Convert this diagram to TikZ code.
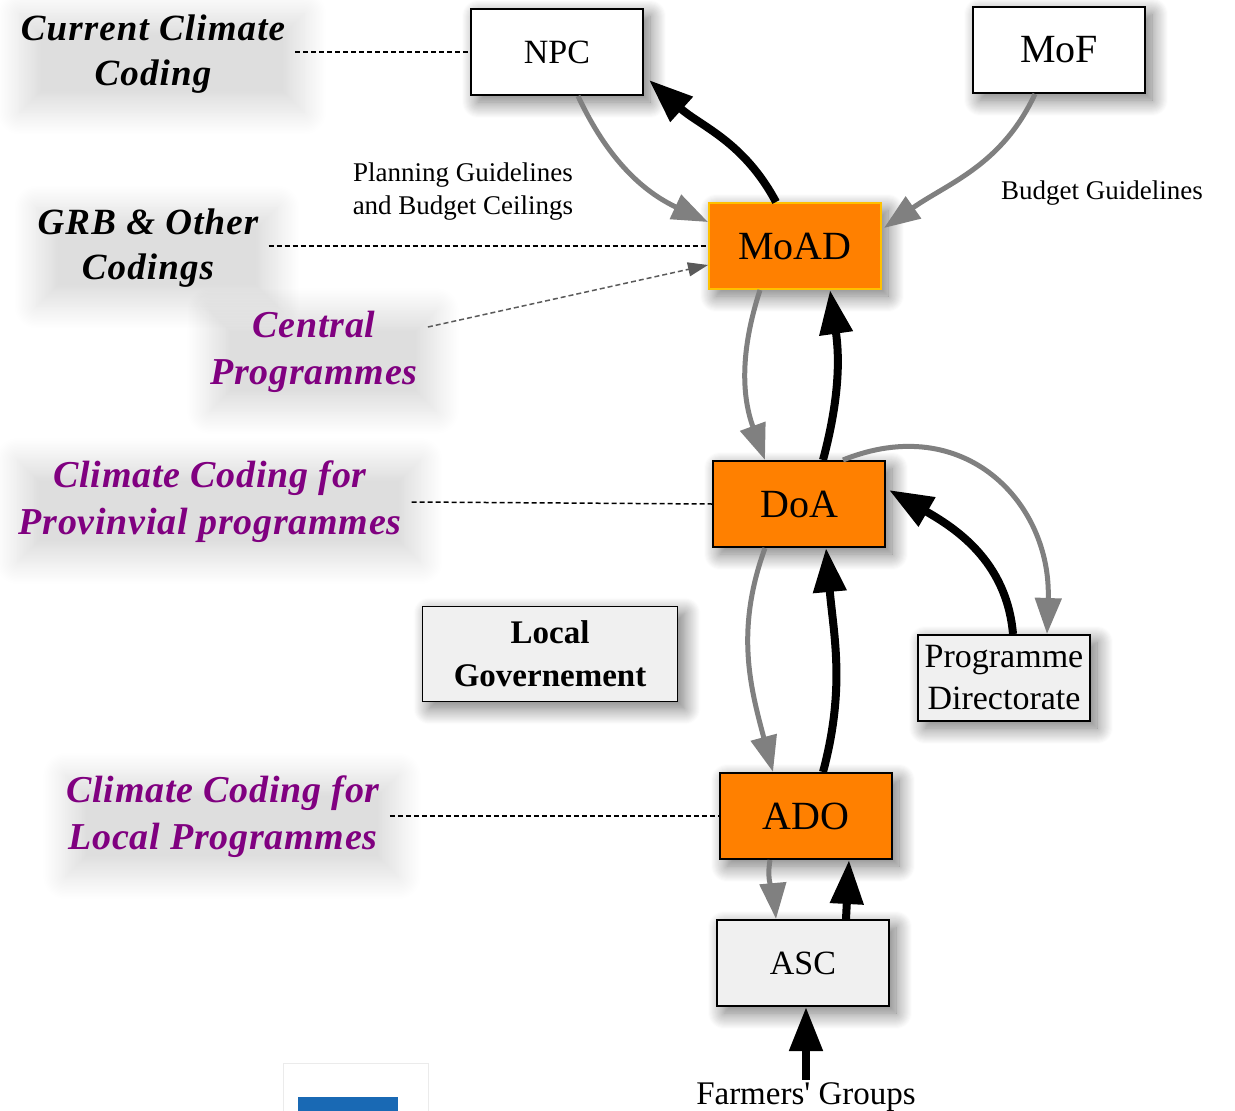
\documentclass[tikz,border=0pt]{standalone}
\usepackage{fontspec}
\setmainfont{Liberation Serif}
\newfontfamily\rawserif{Liberation Serif}
\usetikzlibrary{arrows.meta,calc,shadows.blur}

\definecolor{boxorange}{RGB}{255,128,0}
\definecolor{moadrim}{RGB}{255,192,0}
\definecolor{plum}{RGB}{128,0,128}
\definecolor{flowgray}{RGB}{128,128,128}
\definecolor{linkgray}{RGB}{90,90,90}
\definecolor{panelgray}{RGB}{240,240,240}
\definecolor{tileblue}{RGB}{25,105,180}

\tikzset{
  haze/.style={blur shadow={shadow xshift=7pt, shadow yshift=-7pt,
      shadow blur radius=16pt, shadow blur steps=16, shadow opacity=55}},
  softhaze/.style={blur shadow={shadow xshift=9pt, shadow yshift=-9pt,
      shadow blur radius=22pt, shadow blur steps=16, shadow opacity=13}},
  unitbox/.style={draw=black, line width=2pt, minimum width=172pt,
      minimum height=86pt, inner sep=0pt, haze,
      font=\fontsize{40}{44}\selectfont},
  smallunit/.style={unitbox, font=\fontsize{34}{42}\selectfont, align=center},
  caption/.style={font=\fontsize{37}{45}\selectfont\bfseries\itshape\addfontfeature{LetterSpace=3},
      align=center, inner sep=10pt, softhaze},
  plumcap/.style={font=\fontsize{38}{47}\selectfont\bfseries\itshape\addfontfeature{LetterSpace=2},
      text=plum, align=center, inner sep=10pt, softhaze},
  note/.style={font=\fontsize{27}{33}\selectfont, align=center, inner sep=2pt},
  flowdown/.style={draw=flowgray, line width=5pt,
      -{Triangle[length=36pt,width=26pt]}},
  flowup/.style={draw=black, line width=8pt,
      -{Triangle[length=44pt,width=32pt]}},
  guide/.style={draw=black, line width=1.5pt, dash pattern=on 5pt off 3pt},
  guidearrow/.style={draw=linkgray, line width=1.5pt,
      dash pattern=on 5pt off 3pt,
      -{Triangle[length=20pt,width=14pt]}},
}

\begin{document}
\begin{tikzpicture}[x=1pt,y=1pt]
\useasboundingbox (0,0) rectangle (1235,-1111);

% organisational units
\node[unitbox, fill=white, font=\fontsize{34}{40}\selectfont] (NPC) at (557,-52) {NPC};
\node[unitbox, fill=white] (MoF) at (1059,-50) {MoF};
\node[unitbox, fill=boxorange, draw=moadrim] (MoAD) at (795,-246) {MoAD};
\node[unitbox, fill=boxorange] (DoA) at (799,-504) {DoA};
\node[unitbox, fill=boxorange] (ADO) at (806,-816) {ADO};
\node[smallunit, fill=panelgray] (ASC) at (803,-963) {ASC};
\node[smallunit, fill=panelgray] (PD) at (1004,-678) {Programme\\Directorate};
\node[draw=black, line width=1.5pt, fill=panelgray, minimum width=255pt,
      minimum height=95pt, inner sep=0pt, haze, align=center,
      font=\fontsize{33}{43}\selectfont\bfseries] (LG) at (550,-654) {Local\\Governement};
\node[font=\rawserif\fontsize{33}{40}\selectfont, anchor=base, inner sep=2pt] (FG) at (806,-1104) {Farmers' Groups};

% side captions
\node[caption] (CCC) at (153,-54) {Current Climate\\Coding};
\node[caption] (GRB) at (148,-248) {GRB \& Other\\Codings};
\node[plumcap] (CP) at (314,-352) {Central\\Programmes};
\node[plumcap] (PROV) at (210,-502) {Climate Coding for\\Provinvial programmes};
\node[plumcap] (LOC) at (223,-817) {Climate Coding for\\Local Programmes};
\node[note] (PBG) at (463,-192) {Planning Guidelines\\and Budget Ceilings};
\node[note] (BG) at (1102,-193) {Budget Guidelines};

% partial tile at the lower edge
\draw[draw=black!8, line width=1pt] (283,-1063) rectangle (428,-1115);
\fill[tileblue] (298,-1097) rectangle (398,-1115);

% caption leaders
\draw[guide] (CCC.east |- NPC.west) -- (NPC.west);
\draw[guide] (GRB.east |- MoAD.west) -- (MoAD.west);
\draw[guide] (PROV.east) -- (DoA.west);
\draw[guide] (LOC.east |- ADO.west) -- (ADO.west);
\coordinate (cpTail) at ($(CP.east)+(0,25)$);
\draw[guidearrow] (cpTail) -- ($(MoAD.west)+(0,-19)$);

% guidelines flowing down
\draw[flowdown] ($(NPC.south)+(21,0)$) to[out=-65,in=155] ($(MoAD.west)+(0,24)$);
\draw[flowdown] ($(MoF.south)+(-24,0)$) to[out=-115,in=35] ($(MoAD.east)+(2,18)$);
\draw[flowdown] ($(MoAD.south)+(-35,0)$) to[out=-108,in=110] ($(DoA.north)+(-34,0)$);
\draw[flowdown] ($(DoA.north)+(44,0)$) to[out=22,in=88,looseness=1.25] ($(PD.north)+(43,0)$);
\draw[flowdown] ($(DoA.south)+(-34,0)$) to[out=-110,in=105] ($(ADO.north)+(-33,0)$);
\draw[flowdown] ($(ADO.south)+(-36,0)$) to[out=-100,in=95] ($(ASC.north)+(-27,0)$);

% submissions flowing up
\draw[flowup] ($(MoAD.north)+(-19,0)$) to[out=118,in=-42] ($(NPC.south east)+(5,16)$);
\draw[flowup] ($(DoA.north)+(24,0)$) to[out=75,in=-82] ($(MoAD.south)+(35,0)$);
\draw[flowup] ($(PD.north)+(9,0)$) to[out=95,in=-30] ($(DoA.east)+(3,14)$);
\draw[flowup] ($(ADO.north)+(17,0)$) to[out=75,in=-85] ($(DoA.south)+(27,0)$);
\draw[flowup] ($(ASC.north)+(43,0)$) -- ($(ADO.south)+(43,0)$);
\draw[flowup] (FG.north) -- ($(ASC.south)+(3,0)$);
\end{tikzpicture}
\end{document}
